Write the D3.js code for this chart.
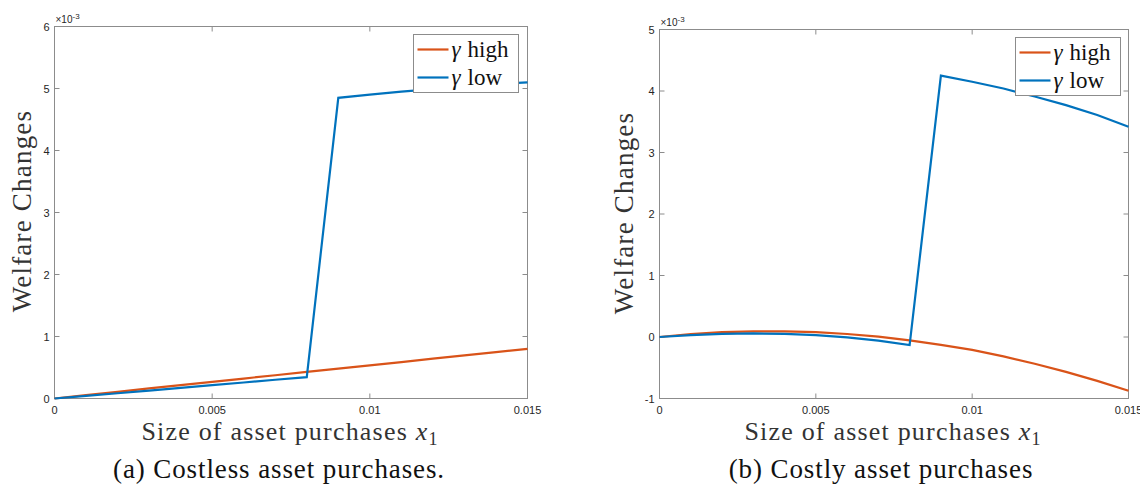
<!DOCTYPE html>
<html>
<head>
<meta charset="utf-8">
<script src="https://cdn.jsdelivr.net/npm/d3@7"></script>
<style>
  body { margin: 0; background: #fff; }
  svg { display: block; }
</style>
</head>
<body>
<svg id="chart" width="1140" height="487"></svg>
<script>
// Welfare changes vs size of asset purchases (values in units of 1e-3)

const xValues = [0, 0.001, 0.002, 0.003, 0.004, 0.005, 0.006, 0.007, 0.008,
                 0.009, 0.010, 0.011, 0.012, 0.013, 0.014, 0.015];

// Panel (a): costless
const costlessHigh = [0, 0.055, 0.108, 0.162, 0.215, 0.268, 0.322, 0.375, 0.428,
                      0.482, 0.535, 0.588, 0.642, 0.695, 0.748, 0.80];
const costlessLow = [0, 0.042, 0.085, 0.128, 0.172, 0.215, 0.258, 0.302, 0.345,
                     4.85, 4.90, 4.95, 4.99, 5.03, 5.07, 5.10];

// Panel (b): costly
const costlyHigh = [0, 0.049, 0.079, 0.093, 0.093, 0.079, 0.049, 0.005, -0.054,
                    -0.127, -0.21, -0.315, -0.435, -0.567, -0.714, -0.875];
const costlyLow = [0, 0.03, 0.05, 0.058, 0.052, 0.032, -0.005, -0.06, -0.13,
                   4.25, 4.15, 4.04, 3.91, 3.77, 3.61, 3.42];

const xTicks = [0, 0.005, 0.01, 0.015];
const xTickLabels = ['0', '0.005', '0.01', '0.015'];
const seriesNames = ['high', 'low'];
const seriesColors = ['#D95319', '#0072BD'];

const svg = d3.select('#chart');

function drawPanel(opt) {
    const x = d3.scaleLinear().domain([0, 0.015]).range([opt.left, opt.right]);
    const y = d3.scaleLinear().domain(opt.yDomain).range([opt.bottom, opt.top]);
    const g = svg.append('g');

    const axisColor = '#8c8c8c';
    const tickFont = 'Liberation Sans, Arial, sans-serif';
    const serif = 'Liberation Serif, serif';

    // box
    g.append('rect')
        .attr('x', opt.left).attr('y', opt.top)
        .attr('width', opt.right - opt.left).attr('height', opt.bottom - opt.top)
        .attr('fill', 'none').attr('stroke', axisColor).attr('stroke-width', 1);

    // inward ticks (MATLAB style, on all four sides)
    const tl = 5;
    xTicks.forEach((t, i) => {
        const px = x(t);
        g.append('line').attr('x1', px).attr('x2', px).attr('y1', opt.bottom).attr('y2', opt.bottom - tl)
            .attr('stroke', axisColor);
        g.append('line').attr('x1', px).attr('x2', px).attr('y1', opt.top).attr('y2', opt.top + tl)
            .attr('stroke', axisColor);
        g.append('text')
            .attr('x', px).attr('y', opt.bottom + 15)
            .attr('text-anchor', 'middle')
            .style('font-family', tickFont).style('font-size', '11px').style('fill', '#262626')
            .text(xTickLabels[i]);
    });

    opt.yTicks.forEach(t => {
        const py = y(t);
        g.append('line').attr('x1', opt.left).attr('x2', opt.left + tl).attr('y1', py).attr('y2', py)
            .attr('stroke', axisColor);
        g.append('line').attr('x1', opt.right).attr('x2', opt.right - tl).attr('y1', py).attr('y2', py)
            .attr('stroke', axisColor);
        g.append('text')
            .attr('x', opt.left - 5).attr('y', py + 4)
            .attr('text-anchor', 'end')
            .style('font-family', tickFont).style('font-size', '11px').style('fill', '#262626')
            .text(t);
    });

    // exponent label
    const expo = g.append('text')
        .attr('x', opt.left + 1).attr('y', opt.top - 4)
        .style('font-family', tickFont).style('font-size', '10px').style('fill', '#262626');
    expo.append('tspan').text('\u00d710');
    expo.append('tspan').attr('dy', -4).style('font-size', '8px').text('-3');

    // lines
    const line = d3.line()
        .x((d, i) => x(xValues[i]))
        .y(d => y(d));

    opt.series.forEach((s, i) => {
        g.append('path')
            .datum(s)
            .attr('d', line)
            .attr('fill', 'none')
            .attr('stroke', seriesColors[i])
            .attr('stroke-width', 2.2)
            .attr('stroke-linejoin', 'miter');
    });

    // legend
    const lg = g.append('g');
    lg.append('rect')
        .attr('x', opt.legend.x).attr('y', opt.legend.y)
        .attr('width', opt.legend.w).attr('height', opt.legend.h)
        .attr('fill', '#fff').attr('stroke', axisColor).attr('stroke-width', 1);
    seriesNames.forEach((name, i) => {
        const cy = opt.legend.y + 15 + i * 28;
        lg.append('line')
            .attr('x1', opt.legend.x + 4).attr('x2', opt.legend.x + 35)
            .attr('y1', cy).attr('y2', cy)
            .attr('stroke', seriesColors[i]).attr('stroke-width', 2.2);
        const t = lg.append('text')
            .attr('x', opt.legend.x + 38).attr('y', cy + 7)
            .style('font-family', serif).style('font-size', '23px').style('fill', '#111');
        t.append('tspan').style('font-style', 'italic').text('\u03b3');
        t.append('tspan').attr('dx', 7).text(name);
    });

    // axis labels
    g.append('text')
        .attr('transform', `translate(${opt.yLabelX}, ${opt.yLabelY}) rotate(-90)`)
        .attr('text-anchor', 'middle')
        .style('font-family', serif).style('font-size', '27px').style('letter-spacing', '1.2px')
        .style('fill', '#333')
        .text('Welfare Changes');

    const xl = g.append('text')
        .attr('x', opt.xLabelX).attr('y', 440)
        .attr('text-anchor', 'middle')
        .style('font-family', serif).style('font-size', '26px').style('letter-spacing', '1.2px')
        .style('fill', '#333');
    xl.append('tspan').text('Size of asset purchases ');
    xl.append('tspan').style('font-style', 'italic').text('x');
    xl.append('tspan').attr('dy', 5).style('font-size', '18px').text('1');

    g.append('text')
        .attr('x', opt.captionX).attr('y', 478)
        .attr('text-anchor', 'middle')
        .style('font-family', serif).style('font-size', '27px').style('letter-spacing', '0.9px')
        .style('fill', '#111')
        .text(opt.caption);
}

drawPanel({
    left: 54.5, right: 527.5, top: 26.5, bottom: 398.5,
    yDomain: [0, 6], yTicks: [0, 1, 2, 3, 4, 5, 6],
    series: [costlessHigh, costlessLow],
    legend: { x: 413.5, y: 34.5, w: 105, h: 58 },
    yLabelX: 31, yLabelY: 211, xLabelX: 290, captionX: 279,
    caption: '(a) Costless asset purchases.'
});

drawPanel({
    left: 659.5, right: 1128.5, top: 29.5, bottom: 398.5,
    yDomain: [-1, 5], yTicks: [-1, 0, 1, 2, 3, 4, 5],
    series: [costlyHigh, costlyLow],
    legend: { x: 1015.5, y: 37.5, w: 105, h: 58 },
    yLabelX: 633, yLabelY: 213, xLabelX: 893, captionX: 881,
    caption: '(b) Costly asset purchases'
});
</script>
</body>
</html>
